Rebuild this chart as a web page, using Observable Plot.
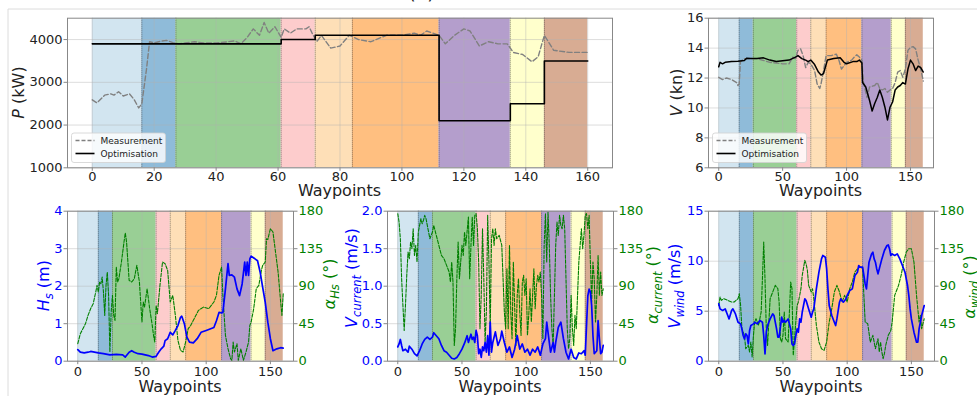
<!DOCTYPE html>
<html>
<head>
<meta charset="utf-8">
<script src="https://cdn.jsdelivr.net/npm/d3@7"></script>
<script src="https://cdn.jsdelivr.net/npm/@observablehq/plot@0.6"></script>
<style>
  body { margin: 0; background: #fff; }
  #fig { position: relative; width: 977px; height: 396px; overflow: hidden; font-family: "DejaVu Sans", sans-serif; }
  #fig svg { position: absolute; left: 0; top: 0; }
</style>
</head>
<body>
<div id="fig"></div>
<script>
// Voyage legs (waypoint boundaries) and their shading colours
const legBounds = [0, 16, 27, 61, 72, 84, 112, 135, 146, 160];
const legColors = ["#d2e5f0", "#8fbbd9", "#99cf95", "#fdcccc", "#fedfb7", "#ffbf80", "#b49ecc", "#ffffcc", "#d8ac93"];

// Propulsion power (kW): measured trace and optimised set points
const powerMeasured = [[0,2590],[1.5,2520],[4,2700],[6,2730],[7,2700],[8.5,2780],[10,2680],[12,2730],[13.5,2600],[15,2400],[16,2500],[17.5,3300],[18.5,3950],[20,3920],[22,3960],[24,3980],[26,3930],[28,3900],[30,3920],[33,3950],[36,3920],[40,3920],[44,3950],[46,3970],[48,3900],[50,4050],[52,4250],[54,4100],[55.5,4400],[57,4150],[59,4300],[61,4050],[62,4250],[64,4150],[66,4250],[69,4250],[70,4300],[71,4150],[72.5,3950],[74,4100],[77,3800],[80,3850],[83,4100],[86,4000],[90,3950],[95,4100],[100,4100],[104,4150],[106,4100],[108,4200],[112,4100],[114,3900],[117,4100],[120,4250],[122,4200],[125,3850],[128,3950],[131,3900],[134,3900],[136,3700],[139,3650],[142,3480],[144,3600],[146,4100],[149,3750],[154,3700],[160,3700]];
const powerOptimised = [[0,3900],[61,4000],[72,4100],[112,2100],[135,2500],[146,3500],[160,3500]];

// Ship speed (kn)
const speedMeasured = [[0,12.05],[3,11.9],[6,12.0],[10,11.9],[14,11.7],[15,11.5],[16,11.6],[17,13.1],[20,13.3],[30,13.3],[40,13.05],[50,12.95],[55,12.95],[58,13.4],[60,13.3],[62,13.85],[64,13.95],[66,13.5],[68,12.7],[70,13.05],[72,12.95],[75,12.5],[77,11.6],[79,11.3],[80,11.6],[82,12.5],[84,13.5],[88,13.5],[92,13.6],[94,13.2],[96,12.6],[100,13.05],[104,13.2],[106,13.4],[108,13.55],[110,13.4],[112,13.2],[113,11.8],[116,10.7],[118,11.4],[122,11.5],[124,11.7],[126,11.3],[128,11.2],[130,11.3],[132,11.05],[134,11.2],[136,11.3],[138,11.7],[140,12.4],[142,12.5],[144,12.05],[146,12.6],[148,13.85],[150,14.05],[152,14.1],[154,13.95],[156,13.2],[158,12.6],[160,11.8]];
const speedOptimised = [[0,12.75],[1,13.05],[3,12.95],[5,13.05],[10,13.1],[15,13.13],[20,13.17],[22,13.33],[25,13.3],[30,13.3],[35,13.35],[40,13.2],[45,13.1],[50,13.15],[55,13.2],[60,13.4],[62,13.5],[65,13.3],[68,13.2],[70,13.1],[72,13.2],[75,12.9],[78,12.4],[80,12.2],[82,12.3],[85,13.2],[90,13.3],[95,13.35],[98,13.05],[100,12.95],[105,13.1],[108,13.1],[110,13.2],[112,13.0],[112.5,11.7],[115,11.4],[118,10.5],[120,9.8],[122,10.3],[124,10.7],[126,11.2],[128,10.7],[130,10.05],[132,9.2],[134,10.05],[136,10.4],[138,11.2],[140,11.4],[142,11.5],[144,11.7],[146,11.6],[148,12.6],[150,13.2],[152,12.95],[154,12.5],[156,12.8],[158,12.7],[160,12.4]];

// Significant wave height (m) and relative wave direction (deg)
const waveHeight = [[0,0.31],[2,0.24],[5,0.22],[8,0.24],[10,0.26],[13,0.24],[16,0.22],[20,0.2],[25,0.17],[30,0.18],[35,0.17],[37,0.11],[40,0.24],[42,0.28],[44,0.24],[47,0.2],[50,0.19],[55,0.15],[58,0.11],[61,0.13],[63,0.24],[65,0.33],[67,0.4],[68,0.55],[70,0.6],[72,0.77],[74,0.7],[76,0.82],[78,0.95],[80,1.17],[81,1.2],[83,1.0],[85,0.64],[87,0.51],[90,0.49],[93,0.6],[96,0.77],[100,0.82],[103,0.86],[106,0.9],[108,1.08],[110,1.3],[112,1.29],[113,1.3],[115,1.93],[117,2.6],[118,2.29],[120,2.3],[122,2.24],[124,1.93],[126,1.75],[128,2.06],[130,2.64],[131,2.29],[132,2.64],[133,2.29],[134,2.73],[135,2.8],[138,2.73],[140,2.68],[142,2.38],[144,1.97],[146,1.57],[148,1.04],[150,0.6],[152,0.28],[155,0.33],[158,0.36],[160,0.35]];
const waveAngle = [[0,21],[2,33],[4,39],[6,45],[8,55],[10,63],[12,69],[14,83],[15,91],[16,83],[17,95],[18,93],[19,101],[20,83],[21,55],[22,91],[23,107],[24,79],[25,11],[26,59],[27,79],[28,55],[29,49],[30,113],[31,95],[32,99],[34,119],[36,143],[37,154],[38,143],[40,97],[42,95],[44,99],[46,115],[48,95],[50,47],[51,71],[52,65],[54,87],[56,63],[58,43],[59,31],[60,23],[61,67],[62,57],[64,91],[66,119],[68,117],[70,109],[72,71],[74,79],[76,55],[78,25],[80,13],[82,11],[84,23],[86,39],[88,43],[90,49],[94,61],[98,65],[102,63],[106,71],[108,79],[110,103],[112,113],[113,79],[115,31],[117,15],[119,3],[120,1],[121,23],[122,11],[124,21],[125,1],[127,15],[129,1],[131,11],[133,23],[134,43],[135,47],[137,63],[139,87],[141,91],[143,109],[144,115],[146,119],[147,147],[148,146],[150,159],[152,155],[154,131],[156,107],[158,71],[159,55],[160,81]];

// Current speed (m/s) and relative current direction (deg)
const currentSpeed = [[0,0.19],[1,0.23],[2,0.29],[3,0.21],[4,0.14],[6,0.16],[8,0.12],[9,0.2],[11,0.16],[13,0.1],[15,0.07],[17,0.14],[19,0.23],[21,0.29],[23,0.32],[25,0.29],[27,0.32],[28,0.38],[30,0.34],[32,0.3],[34,0.21],[36,0.14],[38,0.12],[40,0.08],[42,0.04],[44,0.03],[46,0.05],[48,0.1],[50,0.16],[52,0.24],[54,0.34],[55,0.25],[57,0.36],[58,0.29],[59,0.32],[60,0.25],[61,0.41],[62,0.34],[63,0.1],[64,0.16],[65,0.05],[66,0.19],[67,0.14],[68,0.25],[69,0.12],[70,0.34],[71,0.08],[72,0.52],[73,0.12],[74,0.25],[76,0.39],[78,0.21],[80,0.3],[81,0.4],[83,0.25],[85,0.12],[87,0.19],[89,0.05],[91,0.16],[93,0.34],[95,0.16],[97,0.23],[99,0.12],[101,0.16],[103,0.08],[105,0.16],[107,0.12],[109,0.19],[111,0.08],[113,0.23],[115,0.3],[116,0.52],[118,0.25],[119,0.12],[121,0.25],[122,0.12],[123,0.25],[125,0.45],[127,0.52],[129,0.3],[131,0.12],[133,0.03],[135,0.16],[137,0.05],[139,0.03],[141,0.11],[143,0.1],[145,0.14],[146,0.08],[147,0.48],[148,0.87],[149,0.96],[150,0.92],[151,0.74],[152,0.34],[153,0.1],[155,0.14],[156,0.54],[157,0.3],[158,0.1],[159,0.12],[160,0.21]];
const currentAngle = [[0,177],[1,167],[2,147],[3,99],[4,67],[5,37],[6,67],[7,103],[8,131],[9,123],[10,143],[11,135],[12,159],[13,127],[14,139],[15,119],[16,155],[17,163],[18,171],[19,165],[20,169],[21,175],[22,171],[23,163],[24,155],[25,147],[26,151],[27,155],[28,163],[30,151],[32,139],[34,127],[36,123],[38,115],[40,107],[41,95],[42,119],[43,95],[44,19],[45,39],[46,99],[47,143],[48,99],[49,119],[50,139],[51,127],[52,155],[53,139],[55,173],[56,99],[57,139],[58,173],[59,139],[60,175],[61,177],[62,159],[63,119],[64,39],[65,79],[66,159],[67,99],[68,23],[69,59],[70,175],[71,119],[72,39],[73,147],[74,159],[75,139],[76,159],[77,147],[79,151],[81,139],[82,99],[83,59],[84,39],[85,111],[86,39],[87,139],[88,59],[89,27],[90,119],[91,67],[92,19],[93,79],[94,99],[95,59],[96,31],[97,95],[98,103],[99,79],[100,99],[101,31],[102,55],[103,87],[104,47],[105,79],[106,111],[107,63],[108,91],[109,103],[110,95],[111,107],[112,79],[113,27],[114,139],[115,177],[116,119],[117,179],[118,139],[119,79],[120,39],[121,19],[122,79],[123,139],[124,167],[125,151],[126,175],[127,163],[128,159],[129,175],[130,159],[131,99],[132,39],[133,15],[134,27],[135,79],[136,39],[137,19],[138,55],[139,39],[140,79],[141,119],[142,139],[143,159],[144,135],[145,151],[146,175],[147,177],[148,159],[149,175],[150,119],[151,71],[152,119],[153,99],[154,47],[155,79],[156,127],[157,79],[158,107],[159,79],[160,87]];

// Wind speed (m/s) and relative wind direction (deg)
const windSpeed = [[0,5.73],[1,5.23],[3,5.07],[5,5.23],[7,4.57],[8,4.23],[10,5.07],[11,5.23],[13,4.73],[15,3.9],[17,3.73],[18,3.23],[19,2.57],[20,2.23],[21,2.73],[22,2.57],[23,1.73],[24,3.07],[25,3.57],[27,3.73],[28,3.9],[30,3.73],[32,4.07],[34,3.9],[35,2.57],[36,0.73],[37,2.9],[38,3.57],[40,4.23],[42,4.73],[43,4.57],[44,3.9],[45,3.23],[46,2.4],[47,2.4],[48,3.4],[49,4.4],[50,3.9],[51,4.07],[52,3.9],[54,4.23],[55,3.73],[56,3.23],[57,1.73],[58,1.57],[59,1.73],[60,2.57],[61,3.23],[62,2.9],[63,4.23],[64,3.9],[65,4.9],[66,5.57],[67,6.23],[68,6.07],[70,5.23],[72,4.4],[73,4.9],[74,5.23],[76,7.23],[78,8.9],[80,10.23],[81,10.57],[83,10.4],[84,9.23],[85,7.23],[86,5.57],[88,4.57],[90,3.9],[91,3.57],[92,4.23],[94,5.9],[95,6.23],[97,5.9],[99,6.23],[100,6.57],[102,7.07],[104,7.23],[106,8.57],[108,8.9],[109,9.57],[110,9.4],[112,9.4],[113,8.57],[114,7.73],[115,7.23],[116,8.57],[117,9.9],[119,10.73],[120,10.9],[121,10.23],[122,9.9],[123,9.23],[124,8.73],[125,9.23],[127,10.23],[129,11.07],[131,11.57],[132,11.63],[133,11.23],[134,10.57],[135,10.73],[137,10.57],[139,10.73],[141,10.23],[143,9.57],[145,8.9],[147,7.57],[148,6.57],[149,5.23],[150,4.23],[152,2.9],[154,1.9],[155,1.9],[156,3.23],[158,4.57],[160,5.57]];
const windAngle = [[0,67],[1,77],[2,73],[4,75],[7,73],[10,71],[12,71],[15,75],[16,81],[17,67],[18,39],[20,31],[21,15],[23,19],[24,11],[25,23],[26,5],[27,31],[28,47],[29,51],[31,43],[33,59],[34,99],[35,143],[36,99],[37,39],[38,19],[39,47],[40,75],[42,83],[44,91],[46,87],[47,71],[48,27],[49,23],[50,31],[51,59],[52,27],[54,23],[55,59],[56,95],[57,87],[58,7],[59,27],[60,47],[61,67],[62,71],[64,87],[65,103],[67,121],[68,117],[69,109],[70,91],[72,83],[73,87],[74,75],[76,43],[78,23],[80,15],[82,13],[84,23],[86,47],[88,63],[90,83],[92,91],[94,83],[96,71],[98,79],[100,71],[102,87],[104,95],[106,107],[108,111],[110,113],[112,111],[113,79],[114,47],[116,45],[118,23],[120,31],[122,15],[124,27],[125,11],[126,23],[127,11],[128,3],[129,9],[130,19],[132,31],[134,37],[135,47],[137,79],[138,83],[140,91],[142,103],[144,119],[146,131],[148,135],[150,135],[152,119],[154,79],[155,63],[156,47],[157,55],[158,39],[160,51]];

const W = 977, H = 396;
const fig = document.getElementById("fig");
const legs = legColors.map((color, i) => ({start: legBounds[i], end: legBounds[i + 1], color}));
const innerBounds = legBounds.slice(1, -1);
const FONT = "DejaVu Sans";

function panel({box, yDomain, xTicks, yTicks, yFormat = d => String(d), yColor = "#222", xPad = 1, right = null, marks}) {
  const [x0, y0, x1, y1] = box;
  const axes = [
    Plot.axisX(xTicks, {anchor: "bottom", tickSize: 3.5, tickPadding: xPad, stroke: "#888", fill: "#222", fontSize: 13, label: null}),
    Plot.axisY(yTicks, {anchor: "left", tickSize: 3.5, tickPadding: 1.5, stroke: "#888", fill: yColor, fontSize: 13, tickFormat: yFormat, label: null})
  ];
  if (right) {
    const ymax = yDomain[1];
    axes.push(Plot.axisY(right.ticks.map(a => a / right.max * ymax), {
      anchor: "right", tickSize: 3.5, tickPadding: 1.5, stroke: "#888", fill: right.color, fontSize: 13,
      tickFormat: d => String(Math.round(d / ymax * right.max)), label: null
    }));
  }
  const chart = Plot.plot({
    width: W, height: H,
    marginLeft: x0, marginRight: W - x1, marginTop: y0, marginBottom: H - y1,
    style: {background: "transparent", overflow: "visible", fontFamily: FONT},
    x: {domain: [-8, 168], axis: null},
    y: {domain: yDomain, axis: null},
    color: {type: "identity"},
    marks: [
      Plot.rect(legs, {x1: "start", x2: "end", fill: "color"}),
      Plot.gridX(xTicks, {stroke: "#b0b0b0", strokeOpacity: 0.55, strokeWidth: 0.8}),
      Plot.gridY(yTicks, {stroke: "#b0b0b0", strokeOpacity: 0.55, strokeWidth: 0.8}),
      Plot.ruleX(innerBounds, {stroke: "#333", strokeWidth: 0.8, strokeOpacity: 0.75, strokeDasharray: "1,1"}),
      ...marks,
      Plot.frame({stroke: "#888", strokeWidth: 1}),
      ...axes
    ]
  });
  fig.appendChild(chart);
}

const px = d => d[0], py = d => d[1];

// Power
panel({
  box: [67, 17.7, 612, 167.3], yDomain: [1000, 4500],
  xTicks: d3.range(0, 161, 20), yTicks: [1000, 2000, 3000, 4000], xPad: 0.5,
  marks: [
    Plot.line(powerMeasured, {x: px, y: py, stroke: "#808080", strokeWidth: 1.4, strokeDasharray: "5,2.5"}),
    Plot.line(powerOptimised, {x: px, y: py, curve: "step-after", stroke: "#000", strokeWidth: 1.6})
  ]
});

// Speed
panel({
  box: [708, 17.7, 933, 167.3], yDomain: [6, 16],
  xTicks: [0, 50, 100, 150], yTicks: [6, 8, 10, 12, 14, 16], xPad: 0.5,
  marks: [
    Plot.line(speedMeasured, {x: px, y: py, stroke: "#808080", strokeWidth: 1.4, strokeDasharray: "5,2.5"}),
    Plot.line(speedOptimised, {x: px, y: py, stroke: "#000", strokeWidth: 1.5})
  ]
});

const angleTicks = [0, 45, 90, 135, 180];
function envPanel(box, ymax, yTicks, yFormat, speed, angle) {
  panel({
    box, yDomain: [0, ymax], xTicks: [0, 50, 100, 150], yTicks, yFormat, yColor: "#0000ff", xPad: 2,
    right: {ticks: angleTicks, max: 180, color: "#008000"},
    marks: [
      Plot.line(angle, {x: px, y: d => d[1] / 180 * ymax, stroke: "#008000", strokeWidth: 1.1, strokeDasharray: "3.5,1.5"}),
      Plot.line(speed, {x: px, y: py, stroke: "#0000ff", strokeWidth: 1.7})
    ]
  });
}
envPanel([67, 210.7, 293, 360.7], 4, [0, 1, 2, 3, 4], d => String(d), waveHeight, waveAngle);
envPanel([387, 210.7, 613, 360.7], 2, [0, 0.5, 1, 1.5, 2], d3.format(".1f"), currentSpeed, currentAngle);
envPanel([708, 210.7, 934, 360.7], 15, [0, 5, 10, 15], d => String(d), windSpeed, windAngle);

// Titles, axis labels, legends and the figure border
const svg = d3.select(fig).append("svg").attr("width", W).attr("height", H)
  .style("font-family", FONT).style("overflow", "visible");

svg.append("path").attr("d", "M8,396V9H977").attr("fill", "none").attr("stroke", "#dcdcdc").attr("stroke-width", 1);
svg.append("text").attr("x", 421.5).attr("y", -1.5).attr("text-anchor", "middle").attr("font-size", 19).attr("fill", "#222").text("(a)");

function yLabel(x, y, color, parts) {
  const t = svg.append("text").attr("transform", `translate(${x},${y}) rotate(-90)`)
    .attr("text-anchor", "middle").attr("font-size", 16).attr("fill", color);
  for (const p of parts) {
    const s = t.append("tspan").text(p.t);
    if (p.i) s.attr("font-style", "italic");
    if (p.sub) s.attr("font-size", 11.5).attr("dy", 3.5);
    if (p.up) s.attr("dy", -3.5);
  }
}
yLabel(23.5, 92.5, "#222", [{t: "P", i: true}, {t: " (kW)"}]);
yLabel(682, 92.5, "#222", [{t: "V", i: true}, {t: " (kn)"}]);
yLabel(49, 285.7, "#0000ff", [{t: "H", i: true}, {t: "s", i: true, sub: true}, {t: " (m)", up: true}]);
yLabel(335, 284, "#008000", [{t: "α", i: true}, {t: "Hs", i: true, sub: true}, {t: " (°)", up: true}]);
yLabel(357, 278, "#0000ff", [{t: "V", i: true}, {t: "current", i: true, sub: true}, {t: " (m/s)", up: true}]);
yLabel(658, 285, "#008000", [{t: "α", i: true}, {t: "current", i: true, sub: true}, {t: " (°)", up: true}]);
yLabel(680, 286, "#0000ff", [{t: "V", i: true}, {t: "wind", i: true, sub: true}, {t: " (m/s)", up: true}]);
yLabel(975, 287, "#008000", [{t: "α", i: true}, {t: "wind", i: true, sub: true}, {t: " (°)", up: true}]);

const xLabels = [[339.5, 196], [820.5, 196], [180, 391.5], [500, 391.5], [821, 391.5]];
for (const [x, y] of xLabels) {
  svg.append("text").attr("x", x).attr("y", y).attr("text-anchor", "middle").attr("font-size", 16).attr("fill", "#222").text("Waypoints");
}

function legend(x, y) {
  const g = svg.append("g").attr("transform", `translate(${x},${y})`);
  g.append("rect").attr("width", 94).attr("height", 29.5).attr("rx", 2.5)
    .attr("fill", "#fff").attr("fill-opacity", 0.8).attr("stroke", "#d0d0d0").attr("stroke-width", 0.8);
  const items = [
    {label: "Measurement", stroke: "#808080", dash: "4,2", w: 1.3, y: 7.5},
    {label: "Optimisation", stroke: "#000", dash: null, w: 1.6, y: 20.5}
  ];
  for (const it of items) {
    g.append("line").attr("x1", 4).attr("x2", 23).attr("y1", it.y).attr("y2", it.y)
      .attr("stroke", it.stroke).attr("stroke-width", it.w).attr("stroke-dasharray", it.dash);
    g.append("text").attr("x", 29).attr("y", it.y + 3.2).attr("font-size", 9).attr("fill", "#222").text(it.label);
  }
}
legend(71.5, 133);
legend(712.5, 133);
</script>
</body>
</html>
